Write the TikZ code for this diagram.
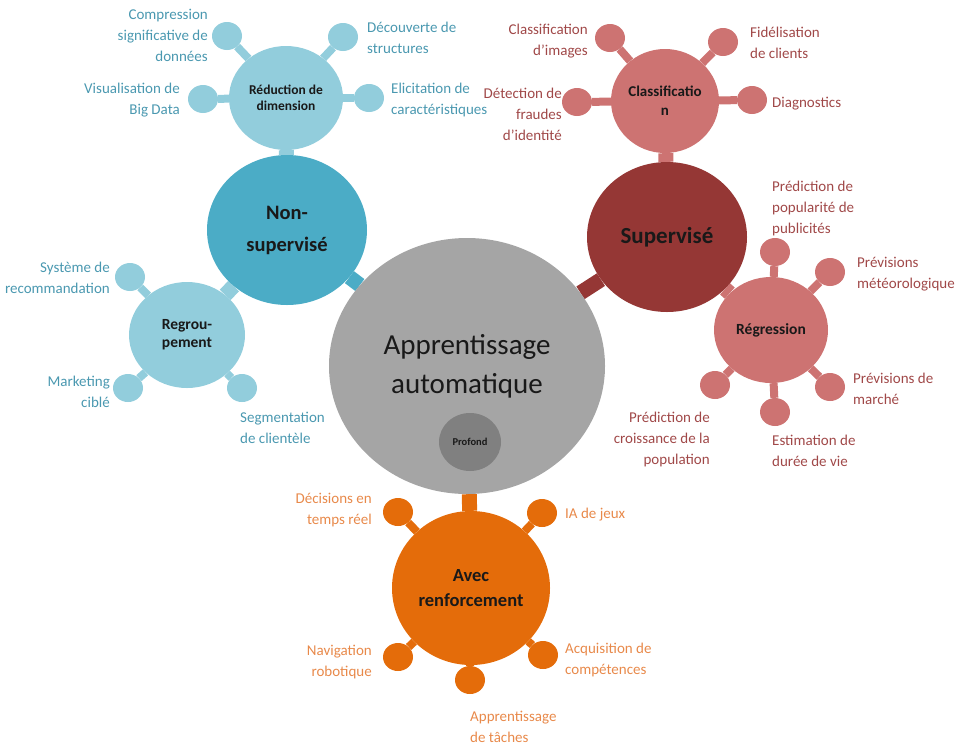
\documentclass[tikz,border=0pt]{standalone}
\usepackage{fontspec}
\setmainfont{Carlito}
\usetikzlibrary{shapes.geometric,backgrounds}
\definecolor{mlgrey}{HTML}{A5A5A5}
\definecolor{deepgrey}{HTML}{808080}
\definecolor{nsblue}{HTML}{4BACC6}
\definecolor{nslight}{HTML}{92CDDC}
\definecolor{nstext}{HTML}{4A98B0}
\definecolor{supred}{HTML}{953735}
\definecolor{suplight}{HTML}{CD7372}
\definecolor{suptext}{HTML}{A04848}
\definecolor{rforange}{HTML}{E46C0A}
\definecolor{rftext}{HTML}{E8894A}
\tikzset{
  blob/.style={ellipse,inner sep=0pt,text=black!90,align=center},
  leaf/.style={ellipse,inner sep=0pt,minimum width=30pt,minimum height=28pt},
  trunk/.style={line width=15pt},
  stem/.style={line width=8pt},
  lbl/.style={inner sep=0pt,font=\fontsize{15}{21}\selectfont},
}

\begin{document}
\begin{tikzpicture}[x=1pt,y=-1pt]
  \useasboundingbox (0,0) rectangle (963,745);
  % main circles
  \node[blob,fill=mlgrey,minimum width=276pt,minimum height=256pt,font=\fontsize{29}{39}\selectfont] (ml) at (467,366) {Apprentissage\\automatique};
  \node[blob,fill=deepgrey,minimum width=62pt,minimum height=58pt,font=\bfseries\fontsize{10.5}{12}\selectfont] (deep) at (470,442) {Profond};
  \node[blob,fill=nsblue,minimum width=160pt,minimum height=150pt,font=\bfseries\fontsize{20.5}{32}\selectfont] (ns) at (287,230) {Non-\\supervisé};
  \node[blob,fill=supred,minimum width=160pt,minimum height=150pt,font=\bfseries\fontsize{23}{30}\selectfont] (sup) at (667,237) {Supervisé};
  \node[blob,fill=rforange,minimum width=158pt,minimum height=154pt,font=\bfseries\fontsize{18.5}{25}\selectfont] (rf) at (471,588) {Avec\\renforcement};
  % second level
  \node[blob,fill=nslight,minimum width=114pt,minimum height=104pt,font=\bfseries\fontsize{13.5}{16}\selectfont] (reduc) at (286,98) {Réduction de\\dimension};
  \node[blob,fill=nslight,minimum width=116pt,minimum height=106pt,font=\bfseries\fontsize{15.5}{18}\selectfont] (regroup) at (187,335) {Regrou-\\pement};
  \node[blob,fill=suplight,minimum width=108pt,minimum height=104pt,font=\bfseries\fontsize{15}{19}\selectfont] (classif) at (665,101) {Classificatio\\n};
  \node[blob,fill=suplight,minimum width=114pt,minimum height=106pt,font=\bfseries\fontsize{15.5}{18}\selectfont] (regress) at (771,330) {Régression};
  % leaves
  \node[leaf,fill=nslight] (rd1) at (227,36) {};
  \node[leaf,fill=nslight] (rd2) at (343,37) {};
  \node[leaf,fill=nslight] (rd3) at (203,99) {};
  \node[leaf,fill=nslight] (rd4) at (369,98) {};
  \node[leaf,fill=nslight] (rg1) at (130,277) {};
  \node[leaf,fill=nslight] (rg2) at (128,388) {};
  \node[leaf,fill=nslight] (rg3) at (242,388) {};
  \node[leaf,fill=suplight] (cl1) at (610,38) {};
  \node[leaf,fill=suplight] (cl2) at (723,42) {};
  \node[leaf,fill=suplight] (cl3) at (577,102) {};
  \node[leaf,fill=suplight] (cl4) at (752,100) {};
  \node[leaf,fill=suplight] (rs1) at (775,252) {};
  \node[leaf,fill=suplight] (rs2) at (830,272) {};
  \node[leaf,fill=suplight] (rs3) at (830,387) {};
  \node[leaf,fill=suplight] (rs4) at (775,412) {};
  \node[leaf,fill=suplight] (rs5) at (715,385) {};
  \node[leaf,fill=rforange] (rf1) at (398,512) {};
  \node[leaf,fill=rforange] (rf2) at (542,513) {};
  \node[leaf,fill=rforange] (rf3) at (398,657) {};
  \node[leaf,fill=rforange] (rf4) at (543,655) {};
  \node[leaf,fill=rforange] (rf5) at (470,680) {};
  % labels
  \node[lbl,text=nstext,anchor=east,align=right] (trd1) at (208,35) {Compression\\significative de\\données};
  \node[lbl,text=nstext,anchor=west,align=left] (trd2) at (367,38) {Découverte de\\structures};
  \node[lbl,text=nstext,anchor=east,align=right] (trd3) at (180,100) {Visualisation de\\Big Data};
  \node[lbl,text=nstext,anchor=west,align=left] (trd4) at (391,100) {Elicitation de\\caractéristiques};
  \node[lbl,text=nstext,anchor=east,align=right] (trg1) at (110,278) {Système de\\recommandation};
  \node[lbl,text=nstext,anchor=east,align=right] (trg2) at (110,392) {Marketing\\ciblé};
  \node[lbl,text=nstext,anchor=west,align=left] (trg3) at (240,428) {Segmentation\\de clientèle};
  \node[lbl,text=suptext,anchor=east,align=right] (tcl1) at (588,41) {Classification\\d’images};
  \node[lbl,text=suptext,anchor=west,align=left] (tcl2) at (750,43) {Fidélisation\\de clients};
  \node[lbl,text=suptext,anchor=east,align=right] (tcl3) at (562,114) {Détection de\\fraudes\\d’identité};
  \node[lbl,text=suptext,anchor=west,align=left] (tcl4) at (772,104) {Diagnostics};
  \node[lbl,text=suptext,anchor=west,align=left] (trs1) at (772,208) {Prédiction de\\popularité de\\publicités};
  \node[lbl,text=suptext,anchor=west,align=left] (trs2) at (857,274) {Prévisions\\météorologique};
  \node[lbl,text=suptext,anchor=west,align=left] (trs3) at (853,389) {Prévisions de\\marché};
  \node[lbl,text=suptext,anchor=west,align=left] (trs4) at (772,451) {Estimation de\\durée de vie};
  \node[lbl,text=suptext,anchor=east,align=right] (trs5) at (710,439) {Prédiction de\\croissance de la\\population};
  \node[lbl,text=rftext,anchor=east,align=right] (trf1) at (372,510) {Décisions en\\temps réel};
  \node[lbl,text=rftext,anchor=west,align=left] (trf2) at (565,515) {IA de jeux};
  \node[lbl,text=rftext,anchor=east,align=right] (trf3) at (372,662) {Navigation\\robotique};
  \node[lbl,text=rftext,anchor=west,align=left] (trf4) at (565,660) {Acquisition de\\compétences};
  \node[lbl,text=rftext,anchor=west,align=left] (trf5) at (470,727) {Apprentissage\\de tâches};
  % connectors
  \begin{scope}[on background layer]
    \draw[trunk,nsblue] (ml) -- (ns);
    \draw[trunk,supred] (ml) -- (sup);
    \draw[trunk,rforange] (ml) -- (rf);
    \draw[trunk,nslight] (ns) -- (reduc);
    \draw[trunk,nslight] (ns) -- (regroup);
    \draw[trunk,suplight] (sup) -- (classif);
    \draw[trunk,suplight] (sup) -- (regress);
    \foreach \s in {rd1,rd2,rd3,rd4} \draw[stem,nslight] (reduc) -- (\s);
    \foreach \s in {rg1,rg2,rg3} \draw[stem,nslight] (regroup) -- (\s);
    \foreach \s in {cl1,cl2,cl3,cl4} \draw[stem,suplight] (classif) -- (\s);
    \foreach \s in {rs1,rs2,rs3,rs4,rs5} \draw[stem,suplight] (regress) -- (\s);
    \foreach \s in {rf1,rf2,rf3,rf4,rf5} \draw[stem,rforange] (rf) -- (\s);
  \end{scope}
\end{tikzpicture}
\end{document}
